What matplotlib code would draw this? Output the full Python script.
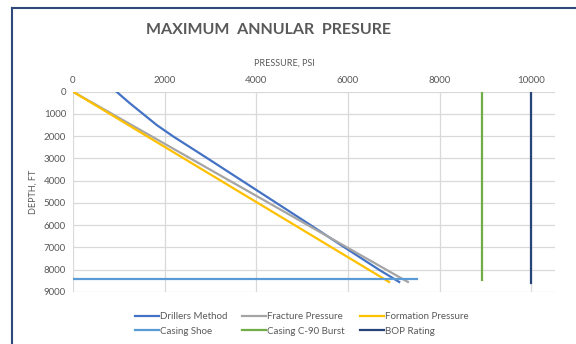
import matplotlib
matplotlib.use('Agg')
import matplotlib.pyplot as plt
from matplotlib.lines import Line2D

plt.rcParams['font.family'] = ['Lato', 'DejaVu Sans']

# well data, depth in ft and pressure in psi
drillers_depth = [0, 500, 1000, 1500, 2000, 2500, 3000, 4000, 5000, 6000, 7000, 8000, 8550]
drillers_psi = [950, 1230, 1530, 1830, 2180, 2560, 2940, 3690, 4440, 5190, 5930, 6680, 7120]

fracture_depth = [0, 8550]
fracture_psi = [0, 7310]

formation_depth = [0, 8550]
formation_psi = [0, 6900]

shoe_depth = [8430, 8430]
shoe_psi = [0, 7510]

burst_depth = [0, 8480]
burst_psi = [8930, 8930]

bop_depth = [0, 8600]
bop_psi = [10000, 10000]

x_ticks = [0, 2000, 4000, 6000, 8000, 10000]
y_ticks = [0, 1000, 2000, 3000, 4000, 5000, 6000, 7000, 8000, 9000]

txt = '#595959'

fig = plt.figure(figsize=(5.76, 3.44), dpi=100)
ax = fig.add_axes([0.1267, 0.1512, 0.8368, 0.5822])

l1, = ax.plot(drillers_psi, drillers_depth, color='#4472C4', lw=1.6, label='Drillers Method')
l2, = ax.plot(fracture_psi, fracture_depth, color='#A5A5A5', lw=1.6, label='Fracture Pressure')
l3, = ax.plot(formation_psi, formation_depth, color='#FFC000', lw=1.6, label='Formation Pressure')
l4, = ax.plot(shoe_psi, shoe_depth, color='#5B9BD5', lw=1.6, label='Casing Shoe')
l5, = ax.plot(burst_psi, burst_depth, color='#70AD47', lw=1.6, label='Casing C-90 Burst')
l6, = ax.plot(bop_psi, bop_depth, color='#264478', lw=1.6, label='BOP Rating')

ax.set_xlim(0, 10520)
ax.set_ylim(9000, 0)
ax.set_xticks(x_ticks)
ax.set_yticks(y_ticks)
ax.xaxis.tick_top()
ax.tick_params(length=0, labelsize=7, colors=txt, pad=5)
ax.grid(True, color='#D9D9D9', lw=0.9)
ax.set_axisbelow(True)
for s in ax.spines.values():
    s.set_visible(False)

fig.text(268 / 576, 1 - 30 / 344, 'MAXIMUM  ANNULAR  PRESURE', ha='center', va='center',
         fontsize=11.5, fontweight='bold', color=txt)
fig.text(284 / 576, 1 - 63 / 344, 'PRESSURE, PSI', ha='center', va='center',
         fontsize=6.5, color=txt)
fig.text(33 / 576, 1 - 192 / 344, 'DEPTH, FT', ha='center', va='center',
         rotation=90, fontsize=6.5, color=txt)

# legend fills column by column, so order handles to read row-wise
handles = [l1, l4, l2, l5, l3, l6]
fig.legend(handles, [h.get_label() for h in handles], loc='center left',
           bbox_to_anchor=(126 / 576, 1 - 324 / 344), ncol=3, frameon=False,
           fontsize=7, labelcolor=txt, handlelength=2.5, handletextpad=0.1,
           columnspacing=1.5, labelspacing=0.55)

# chart frame
frame = '#2F4A7A'
fig.add_artist(Line2D([11.5 / 576, 11.5 / 576], [0, 1 - 8 / 344], color=frame, lw=1.5))
fig.add_artist(Line2D([11.5 / 576, 1], [1 - 8 / 344, 1 - 8 / 344], color=frame, lw=1.5))

fig.savefig('out.png', dpi=100)
